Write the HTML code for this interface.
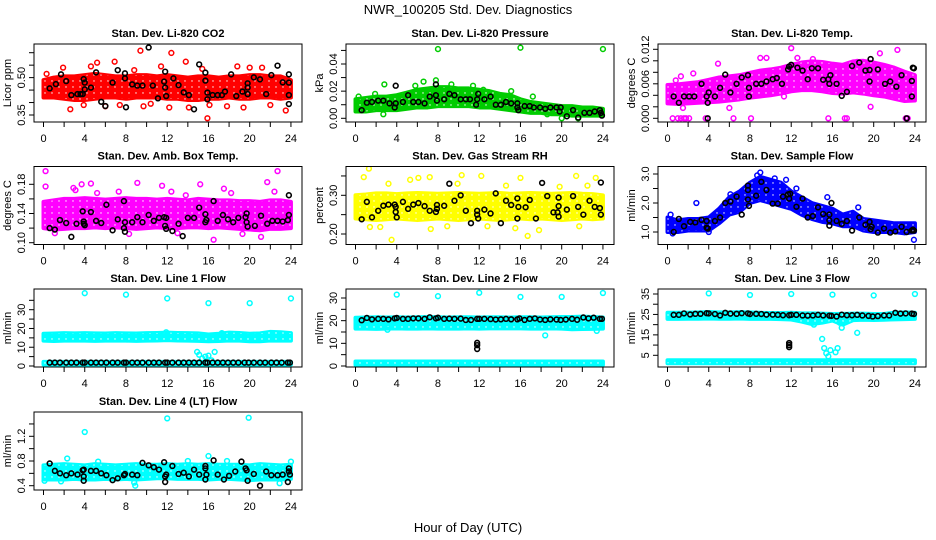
<!DOCTYPE html>
<html><head><meta charset="utf-8"><style>
html,body{margin:0;padding:0;background:#fff}
svg{display:block;font-family:"Liberation Sans",sans-serif}
</style></head><body>
<svg id="c" width="936" height="540" viewBox="0 0 936 540">
<defs>
<pattern id="dots" width="7" height="6" patternUnits="userSpaceOnUse"><circle cx="3" cy="3" r="0.7" fill="#fff"/></pattern>
</defs>
<text x="468" y="14" text-anchor="middle" font-size="13">NWR_100205  Std. Dev. Diagnostics</text>
<text x="468" y="532" text-anchor="middle" font-size="13">Hour of Day (UTC)</text>
</svg>
<script>
// ---------- DATA ----------
const hours = [0,1,2,3,4,5,6,7,8,9,10,11,12,13,14,15,16,17,18,19,20,21,22,23,24];
const xTicks = [0,2,4,6,8,10,12,14,16,18,20,22,24];
const xLabels = [0,4,8,12,16,20,24];

const co2Lo = [.42,.42,.415,.41,.41,.415,.42,.42,.415,.42,.42,.42,.415,.415,.41,.41,.415,.415,.42,.415,.415,.42,.42,.415,.42];
const co2Hi = [.49,.50,.505,.505,.51,.515,.51,.505,.505,.51,.51,.505,.51,.505,.50,.505,.505,.50,.505,.505,.51,.51,.505,.505,.49];
const co2Out = [[9.4,.608],[12.4,.599],[13.8,.564],[15.9,.337],[2.6,.373],[23.5,.368],[6.9,.564],[5.2,.56],[1.9,.54],[4.6,.545],[8.8,.53],[11.4,.545],[15.4,.535],[18.8,.545],[20,.54],[21.2,.54],[0.3,.515],[3.9,.39],[6,.385],[9.7,.385],[12.2,.38],[14.1,.38],[17.8,.385],[19.4,.38],[22,.39],[7.4,.39],[10.4,.395],[16.1,.39]];
const co2Blk = [[0.6,.457],[1.2,.474],[1.7,.513],[2.2,.486],[2.7,.43],[3.3,.434],[3.6,.434],[3.9,.494],[4.0,.48],[4.0,.453],[3.8,.434],[4.6,.46],[5.1,.521],[5.6,.403],[6.0,.386],[6.7,.48],[7.2,.53],[7.9,.517],[7.9,.497],[8.0,.381],[8.6,.473],[9.1,.468],[9.6,.468],[10.2,.621],[10.6,.468],[11.1,.417],[11.7,.484],[11.8,.524],[11.8,.46],[11.9,.426],[12.6,.497],[13.1,.47],[13.6,.441],[14.1,.43],[14.6,.373],[15.1,.553],[15.7,.52],[15.7,.488],[15.9,.44],[15.9,.413],[16.4,.43],[16.9,.43],[17.3,.43],[17.6,.444],[18.2,.513],[18.7,.426],[19.3,.444],[19.8,.477],[19.8,.46],[19.8,.434],[20.4,.501],[21.0,.493],[21.6,.434],[22.1,.51],[22.7,.548],[23.2,.481],[23.8,.513],[23.8,.48],[23.8,.43],[23.8,.394]];

const presLo = [.005,.005,.006,.006,.006,.007,.008,.008,.009,.009,.009,.009,.008,.008,.007,.006,.005,.004,.004,.003,.003,.002,.002,.002,.002];
const presHi = [.014,.015,.016,.016,.017,.019,.021,.022,.023,.023,.022,.022,.021,.020,.018,.017,.014,.012,.011,.010,.009,.009,.008,.008,.007];
const presOut = [[8,.051],[16,.052],[24,.051],[2.8,.025],[6.6,.027],[7.8,.028],[11.4,.024],[20,0],[21.6,0],[0.3,.016],[1.9,.018],[5.8,.024],[9.3,.025],[12.4,.021],[15.1,.02],[17.2,.016],[18.6,.003],[2.7,.003]];
const presBlk = [[0.6,.006],[1.1,.0115],[1.6,.012],[2.2,.013],[2.7,.013],[3.3,.011],[3.9,.024],[3.9,.011],[3.8,.008],[4.6,.012],[5.1,.017],[5.6,.012],[6.1,.012],[6.7,.011],[7.2,.016],[7.8,.025],[7.8,.017],[7.9,.013],[8.6,.014],[9.1,.018],[9.6,.017],[10.2,.014],[10.7,.014],[11.1,.014],[11.7,.010],[11.8,.014],[11.9,.018],[12.5,.014],[13.1,.016],[13.6,.010],[14.1,.010],[14.6,.012],[15.1,.011],[15.7,.011],[15.7,.008],[15.8,.006],[16.4,.009],[16.9,.009],[17.3,.008],[17.9,.008],[18.4,.007],[18.9,.008],[19.5,.008],[19.8,.005],[19.9,.008],[20.5,.0015],[21.1,.006],[21.6,.0005],[22.2,.004],[22.7,.004],[23.2,.005],[23.7,.006],[23.8,.004],[23.9,.002]];

const tempLo = [.0026,.0025,.0026,.0027,.0028,.0029,.0031,.0033,.0036,.0038,.0040,.0043,.0047,.0049,.0049,.0047,.0044,.0043,.0045,.0043,.0040,.0038,.0034,.0030,.0031];
const tempHi = [.0058,.0059,.0061,.0063,.0067,.0071,.0073,.0075,.0079,.0083,.0085,.0088,.0093,.0097,.0099,.0098,.0095,.0093,.0099,.0100,.0097,.0093,.0088,.0081,.0075];
const tempOut = [[0.5,0],[1.0,0],[1.3,0],[1.6,0],[1.8,0],[2.1,0],[3.7,0],[6.4,0],[8.1,0],[15.6,0],[17.2,0],[17.4,0],[23.1,0],[23.3,0],[12.0,.0122],[22.3,.0119],[9.0,.0105],[9.6,.0105],[19.7,.002],[4.9,.0095],[2.5,.0078],[1.3,.0073],[0.8,.0066],[6.0,.0018],[1.5,.0018],[11.3,.0038],[12.6,.0105],[14.1,.0103],[20.6,.0113],[18.4,.0098]];
const tempBlk = [[0.6,.0038],[1.1,.0027],[1.6,.0038],[2.1,.0038],[2.6,.0038],[3.3,.006],[3.8,.0038],[3.9,.0027],[4.0,.0045],[3.9,0],[4.6,.0038],[5.1,.0053],[5.6,.0076],[6.1,.0045],[6.7,.006],[7.2,.0071],[7.8,.0075],[7.9,.0053],[7.9,.0038],[8.6,.006],[9.1,.006],[9.6,.0064],[10.2,.0068],[10.6,.007],[11.1,.006],[11.7,.0085],[11.8,.009],[12.0,.0093],[12.6,.0088],[13.1,.0083],[13.6,.0068],[14.0,.0087],[14.6,.0087],[15.1,.0067],[15.6,.0068],[15.8,.0075],[15.7,.006],[16.4,.006],[16.9,.0039],[17.4,.0046],[17.9,.0091],[18.6,.0097],[19.2,.0083],[19.6,.0064],[19.7,.0103],[19.6,.0084],[20.4,.0085],[21.1,.006],[21.6,.0064],[22.2,.0055],[22.7,.0075],[23.2,0],[23.7,.0038],[23.7,.0065],[23.8,.0088],[23.9,.0087]];

const boxLo = [.120,.118,.119,.120,.120,.121,.120,.121,.120,.119,.120,.121,.120,.120,.121,.121,.120,.121,.120,.119,.118,.117,.119,.119,.120];
const boxHi = [.156,.158,.160,.160,.161,.160,.159,.160,.161,.160,.160,.159,.160,.159,.158,.160,.159,.158,.158,.157,.157,.156,.158,.158,.156];
const boxOut = [[0.2,.198],[0.2,.177],[22.7,.198],[21.7,.183],[9.1,.182],[15.2,.18],[4.6,.181],[3.7,.18],[16.5,.104],[21.1,.108],[13.0,.113],[2.9,.175],[3.1,.172],[11.5,.178],[17.5,.174],[7.3,.17],[12.4,.17],[18.2,.168],[22.4,.17],[1.1,.113],[8.3,.112],[19.3,.112],[5.2,.168],[13.8,.165]];
const boxBlk = [[0.6,.12],[1.1,.118],[1.6,.131],[2.2,.127],[2.7,.108],[3.2,.126],[3.8,.143],[3.9,.126],[3.9,.129],[4.0,.124],[4.6,.142],[5.1,.13],[5.6,.127],[6.1,.152],[6.7,.117],[7.2,.132],[7.8,.157],[7.8,.12],[7.9,.128],[7.9,.115],[8.6,.128],[9.1,.135],[9.6,.128],[10.2,.138],[10.7,.13],[11.2,.134],[11.7,.135],[11.8,.123],[11.9,.119],[11.9,.134],[12.5,.116],[13.1,.126],[13.5,.109],[14.0,.134],[14.6,.134],[15.1,.148],[15.7,.139],[15.7,.128],[15.8,.131],[16.5,.157],[16.9,.13],[17.4,.138],[17.9,.132],[18.4,.128],[18.9,.134],[19.6,.135],[19.7,.14],[19.7,.128],[19.8,.122],[20.5,.123],[21.1,.137],[21.7,.126],[22.2,.13],[22.7,.13],[23.2,.129],[23.7,.131],[23.8,.138],[23.8,.165]];

const rhLo = [.24,.238,.236,.238,.24,.238,.236,.238,.24,.238,.236,.238,.24,.238,.236,.238,.24,.238,.24,.238,.236,.238,.24,.238,.24];
const rhHi = [.30,.302,.305,.305,.303,.305,.306,.305,.304,.305,.306,.305,.304,.305,.306,.304,.305,.306,.305,.304,.305,.306,.304,.303,.30];
const rhOut = [[1.3,.369],[0.8,.347],[3.5,.185],[16.7,.195],[21.4,.35],[10.3,.352],[12.2,.35],[7.2,.347],[23.3,.345],[1.4,.218],[2.4,.218],[17.8,.21],[7.3,.213],[5.3,.34],[6.1,.345],[16,.345],[3.2,.33],[9.9,.33],[14.6,.325],[19.8,.322],[22.5,.325],[8.9,.22],[12.8,.22],[15.5,.215],[21.7,.22]];
const rhBlk = [[0.6,.238],[1.1,.283],[1.6,.243],[2.2,.26],[2.7,.273],[3.2,.276],[3.9,.27],[3.9,.257],[4.0,.243],[3.8,.276],[4.6,.283],[5.1,.265],[5.6,.276],[6.1,.28],[6.7,.272],[7.2,.26],[7.8,.257],[7.9,.275],[7.9,.265],[8.6,.273],[9.1,.33],[9.6,.286],[10.2,.3],[10.7,.26],[11.2,.228],[11.8,.26],[11.9,.24],[11.8,.25],[12.5,.263],[13.1,.253],[13.6,.305],[14.1,.228],[14.6,.286],[15.1,.275],[15.7,.292],[15.7,.24],[15.8,.27],[16.5,.269],[16.9,.288],[17.5,.24],[18.1,.332],[18.6,.298],[19.2,.256],[19.6,.256],[19.7,.294],[19.7,.272],[19.7,.245],[20.5,.263],[21.1,.298],[21.6,.27],[22.1,.25],[22.7,.286],[23.2,.27],[23.7,.267],[23.8,.333],[23.8,.25]];

const flowLo = [1.0,1.0,1.05,1.05,1.05,1.3,1.6,1.7,2.0,2.1,2.0,1.9,1.8,1.6,1.45,1.35,1.3,1.2,1.2,1.05,1.0,1.0,1.0,0.95,1.0];
const flowHi = [1.5,1.4,1.45,1.45,1.5,1.8,2.2,2.4,2.7,2.9,2.8,2.7,2.4,2.2,2.0,1.9,1.8,1.6,1.7,1.45,1.4,1.35,1.3,1.3,1.3];
const flowOut = [[2.8,2.0],[9.0,3.05],[23.9,0.73],[15.5,2.2],[7.5,2.3],[0.3,1.6],[8.7,2.95],[10.4,2.85],[11.5,2.8],[6.1,2.3],[12.5,2.5],[18.5,1.85],[0.5,0.95],[4.0,1.0]];
const flowBlk = [[0.6,1.0],[1.1,1.45],[1.6,1.2],[2.2,1.35],[2.7,1.33],[3.3,1.42],[3.8,1.38],[3.8,1.15],[3.9,1.12],[4.6,1.38],[5.1,1.5],[5.6,2.0],[6.1,2.05],[6.7,2.22],[7.2,1.6],[7.8,2.45],[7.8,2.6],[7.8,2.12],[7.9,1.9],[8.6,2.25],[9.1,2.73],[9.6,2.45],[10.2,1.98],[10.7,1.98],[11.2,2.22],[11.7,2.3],[11.8,2.15],[11.9,2.32],[12.5,1.87],[13.1,2.15],[13.6,1.5],[14.1,1.55],[14.6,1.85],[15.1,1.62],[15.7,1.6],[15.7,1.4],[15.7,1.22],[15.9,2.0],[16.4,1.38],[16.9,1.28],[17.4,1.38],[17.9,1.05],[18.6,1.5],[19.2,1.25],[19.6,1.35],[19.7,1.1],[19.8,1.18],[20.4,0.98],[21.0,1.12],[21.6,0.98],[22.1,1.02],[22.7,1.18],[23.2,1.0],[23.7,1.05],[23.8,1.08],[23.9,1.05]];

const lineBlkHours = [0.6,1.1,1.6,2.2,2.7,3.2,3.8,4.0,4.6,5.1,5.6,6.1,6.7,7.2,7.8,8.0,8.6,9.1,9.6,10.2,10.7,11.2,11.8,12.0,12.5,13.1,13.6,14.1,14.6,15.1,15.7,15.9,16.4,16.9,17.4,17.9,18.4,18.9,19.5,19.9,20.4,21.0,21.5,22.1,22.6,23.1,23.7,23.9];

const l1Lo = [13.5,13.3,13.5,13.6,13.5,13.4,13.5,13.6,13.5,13.4,13.5,13.6,13.8,13.6,13.5,13.4,13.2,13.3,13.6,13.5,13.2,13.2,13.6,13.5,13.5];
const l1Hi = [17.2,17.3,17.5,17.4,17.5,17.4,17.3,17.5,17.4,17.3,17.5,17.6,17.8,17.6,17.5,17.4,16.8,17.2,17.8,17.6,17.2,17.4,18.2,18,17.5];
const l1LowLo = [0.8,0.8,0.8,0.8,0.8,0.8,0.8,0.8,0.8,0.8,0.8,0.8,0.8,0.8,0.8,0.8,0.8,0.8,0.8,0.8,0.8,0.8,0.8,0.8,0.8];
const l1LowHi = [2.2,2.2,2.2,2.2,2.2,2.2,2.2,2.2,2.2,2.2,2.2,2.2,2.2,2.2,2.2,2.2,2.2,2.2,2.2,2.2,2.2,2.2,2.2,2.2,2.2];
const l1Out = [[4,38.8],[8,38],[12,36],[16,33.5],[20,33.5],[24,36],[14.9,7.5],[15.1,6],[15.4,4],[15.7,5],[16.0,5.5],[16.3,3],[16.6,7.5],[17.3,17.5],[11.9,18]];
const l1BlkV = [1.8,1.8,1.8,1.8,1.8,1.8,1.8,1.8,1.8,1.8,1.8,1.8,1.8,1.8,1.8,1.8,1.8,1.8,1.8,1.8,1.8,1.8,1.8,1.8,1.8,1.8,1.8,1.8,1.8,1.8,1.8,1.8,1.8,1.8,1.8,1.8,1.8,1.8,1.8,1.8,1.8,1.8,1.8,1.8,1.8,1.8,1.8,1.8];

const l2Lo = [16.5,16.5,16.4,16.5,16.6,16.5,16.5,16.6,16.5,16.5,16.5,16.6,16.5,16.6,16.6,16.6,16.6,16.5,16.5,16.6,16.5,16.2,16.3,16.4,16.5];
const l2Hi = [21.3,21.4,21.5,21.4,21.5,21.4,21.5,21.6,21.5,21.4,21.5,21.5,21.4,21.5,21.5,21.4,21.5,21.5,21.4,21.5,21.6,21.6,21.8,21.6,21.4];
const l2LowLo = [0.5,0.5,0.5,0.5,0.5,0.5,0.5,0.5,0.5,0.5,0.5,0.5,0.5,0.5,0.5,0.5,0.5,0.5,0.5,0.5,0.5,0.5,0.5,0.5,0.5];
const l2LowHi = [2.0,2.0,2.0,2.0,2.0,2.0,2.0,2.0,2.0,2.0,2.0,2.0,2.0,2.0,2.0,2.0,2.0,2.0,2.0,2.0,2.0,2.0,2.0,2.0,2.0];
const l2Out = [[4,31.5],[8,30.8],[12,32.3],[16,30.5],[20,30.5],[24,32.2],[18.4,13.5],[3.1,16],[23.4,15.5]];
const l2BlkV = [20.2,21.2,20.6,20.8,20.8,20.6,21.0,21.2,20.8,20.8,21.0,21.0,20.8,21.5,21.0,21.3,20.8,20.9,20.8,20.9,20.3,20.3,20.8,20.8,20.8,20.7,20.5,20.6,20.8,20.6,20.6,21.0,20.3,20.8,21.0,20.5,20.3,20.6,20.5,20.3,20.5,20.8,20.4,21.4,21.0,21.3,20.8,20.8];
const l2BlkOut = [[11.8,10.2],[11.8,9.2],[11.8,7.5]];

const l3Lo = [22.8,22.8,22.9,22.9,23.0,22.9,22.9,23.0,22.8,22.8,22.8,22.7,22.5,21.5,20.3,21.0,22.0,20.0,22.2,22.4,22.3,22.4,22.6,22.7,22.8];
const l3Hi = [25.8,25.8,25.9,26.0,26.2,26.0,26.0,26.1,26.0,25.8,25.7,25.7,25.8,25.5,25.5,25.4,25.2,25.3,25.4,25.4,25.2,25.2,25.9,26.0,25.8];
const l3LowLo = [1.1,1.1,1.1,1.1,1.1,1.1,1.1,1.1,1.1,1.1,1.1,1.1,1.1,1.1,1.1,1.1,1.1,1.1,1.1,1.1,1.1,1.1,1.1,1.1,1.1];
const l3LowHi = [2.6,2.6,2.6,2.6,2.6,2.6,2.6,2.6,2.6,2.6,2.6,2.6,2.6,2.6,2.6,2.6,2.6,2.6,2.6,2.6,2.6,2.6,2.6,2.6,2.6];
const l3Out = [[4,35.3],[8,34.5],[12,35],[16,34.7],[20,34.3],[24,35],[15,13],[15.2,8.5],[15.4,6],[15.6,4.5],[15.8,7.5],[16.3,6.5],[16.5,8.5],[16.9,18.5],[18.4,16],[14.2,20],[16.7,21]];
const l3BlkV = [24.8,24.8,25.5,25.0,25.3,25.3,25.6,25.5,25.2,24.5,25.8,25.4,25.3,25.6,25.5,25.2,25.3,25.2,24.9,24.9,24.8,24.6,24.6,24.8,24.8,24.5,24.4,24.5,24.8,24.5,24.4,24.3,24.0,24.9,24.6,24.6,24.8,24.5,24.3,24.0,24.2,24.5,24.5,25.8,25.4,25.5,25.4,25.2];
const l3BlkOut = [[11.8,11],[11.8,10],[11.8,9]];

const l4Lo = [.50,.50,.50,.51,.50,.50,.51,.50,.51,.50,.51,.52,.52,.51,.51,.51,.50,.51,.51,.50,.49,.50,.50,.50,.51];
const l4Hi = [.73,.74,.75,.74,.73,.75,.74,.73,.74,.75,.74,.74,.75,.74,.75,.74,.75,.74,.74,.74,.73,.75,.74,.73,.74];
const l4Out = [[4.0,1.27],[12.0,1.49],[19.9,1.5],[16.0,0.88],[8.9,0.4],[8.8,0.45],[2.3,0.84],[22.9,0.44],[1.7,0.47],[5.3,0.79],[14,0.8],[17.8,0.8],[0.1,0.48],[24,0.79]];
const l4Blk = [[0.6,.76],[1.1,.64],[1.6,.6],[2.2,.57],[2.7,.6],[3.3,.58],[3.9,.48],[3.9,.55],[3.8,.65],[3.9,.66],[4.6,.64],[5.1,.64],[5.6,.6],[6.1,.57],[6.7,.49],[7.2,.52],[7.8,.57],[7.9,.59],[8.6,.58],[9.1,.57],[9.6,.77],[10.2,.73],[10.7,.7],[11.2,.66],[11.7,.78],[11.8,.46],[11.8,.55],[11.9,.58],[12.5,.72],[13.1,.59],[13.6,.61],[14.1,.55],[14.6,.66],[15.1,.58],[15.7,.72],[15.7,.68],[15.7,.5],[15.8,.58],[16.5,.81],[16.9,.58],[17.5,.5],[18.0,.56],[18.6,.63],[19.2,.79],[19.6,.68],[19.7,.65],[19.8,.48],[20.4,.59],[21.0,.4],[21.6,.63],[22.1,.57],[22.7,.57],[23.2,.58],[23.7,.46],[23.8,.68],[23.8,.63],[23.9,.58]];

// ---------- PANELS (layout only) ----------
const NS = 'http://www.w3.org/2000/svg';
const svg = document.getElementById('c');
function zip(h, v){ return h.map((x,i)=>[x, v[i]]); }
const P = [
 {key:'co2',col:0,row:0,title:'Stan. Dev. Li-820 CO2',ylab:'Licor ppm',color:'#ff0000',ya:[0.35,115,0.60,52.7],ticks:[.35,.40,.45,.50,.55,.60],labels:['0.35','0.50'],labVals:[.35,.50],bands:[[co2Lo,co2Hi]],out:co2Out,blk:co2Blk},
 {key:'pressure',col:1,row:0,title:'Stan. Dev. Li-820 Pressure',ylab:'kPa',color:'#00cc00',ya:[0,118.3,0.04,64],ticks:[0,.01,.02,.03,.04,.05],labels:['0.00','0.02','0.04'],labVals:[0,.02,.04],bands:[[presLo,presHi]],out:presOut,blk:presBlk},
 {key:'temp',col:2,row:0,title:'Stan. Dev. Li-820 Temp.',ylab:'degrees C',color:'#ff00ff',ya:[0,118.3,0.012,49.3],ticks:[0,.002,.004,.006,.008,.010,.012],labels:['0.000','0.006','0.012'],labVals:[0,.006,.012],bands:[[tempLo,tempHi]],out:tempOut,blk:tempBlk},
 {key:'box-temp',col:0,row:1,title:'Stan. Dev. Amb. Box Temp.',ylab:'degrees C',color:'#ff00ff',ya:[0.10,242.7,0.18,184.3],ticks:[.10,.12,.14,.16,.18],labels:['0.10','0.14','0.18'],labVals:[.10,.14,.18],bands:[[boxLo,boxHi]],out:boxOut,blk:boxBlk},
 {key:'rh',col:1,row:1,title:'Stan. Dev. Gas Stream RH',ylab:'percent',color:'#ffff00',ya:[0.20,234,0.30,195.3],ticks:[.20,.25,.30,.35],labels:['0.20','0.30'],labVals:[.20,.30],bands:[[rhLo,rhHi]],out:rhOut,blk:rhBlk},
 {key:'sample-flow',col:2,row:1,title:'Stan. Dev. Sample Flow',ylab:'ml/min',color:'#0000ff',ya:[1.0,232,3.0,174],ticks:[1,1.5,2,2.5,3],labels:['1.0','2.0','3.0'],labVals:[1,2,3],bands:[[flowLo,flowHi]],out:flowOut,blk:flowBlk},
 {key:'line1',col:0,row:2,title:'Stan. Dev. Line 1 Flow',ylab:'ml/min',color:'#00ffff',ya:[0,366,30,309.7],ticks:[0,5,10,15,20,25,30,35],labels:['0','10','20','30'],labVals:[0,10,20,30],bands:[[l1Lo,l1Hi],[l1LowLo,l1LowHi]],out:l1Out,blk:zip(lineBlkHours,l1BlkV)},
 {key:'line2',col:1,row:2,title:'Stan. Dev. Line 2 Flow',ylab:'ml/min',color:'#00ffff',ya:[0,366,30,298],ticks:[0,5,10,15,20,25,30],labels:['0','10','20','30'],labVals:[0,10,20,30],bands:[[l2Lo,l2Hi],[l2LowLo,l2LowHi]],out:l2Out,blk:zip(lineBlkHours,l2BlkV).concat(l2BlkOut)},
 {key:'line3',col:2,row:2,title:'Stan. Dev. Line 3 Flow',ylab:'ml/min',color:'#00ffff',ya:[5,355.3,35,294],ticks:[5,10,15,20,25,30,35],labels:['5','15','25','35'],labVals:[5,15,25,35],bands:[[l3Lo,l3Hi],[l3LowLo,l3LowHi]],out:l3Out,blk:zip(lineBlkHours,l3BlkV).concat(l3BlkOut)},
 {key:'line4',col:0,row:3,title:'Stan. Dev. Line 4 (LT) Flow',ylab:'ml/min',color:'#00ffff',ya:[0.4,485.7,1.2,436.3],ticks:[.4,.6,.8,1.0,1.2,1.4],labels:['0.4','0.8','1.2'],labVals:[.4,.8,1.2],bands:[[l4Lo,l4Hi]],out:l4Out,blk:l4Blk}
];
const rowTop=[44,166.5,289,412], boxH=78;

function el(tag, attrs, parent){ const e=document.createElementNS(NS,tag); for(const k in attrs) e.setAttribute(k,attrs[k]); (parent||svg).appendChild(e); return e; }

P.forEach(p=>{
  const off=p.col*312, L=off+34, R=off+302, T=rowTop[p.row], B=T+boxH;
  const xs=h=>off+43.5+h*10.31;
  const ys=v=>p.ya[1]+(v-p.ya[0])*(p.ya[3]-p.ya[1])/(p.ya[2]-p.ya[0]);
  const g=el('g',{});
  
  
  const clipId='clip-'+p.key;
  const cp=el('clipPath',{id:clipId},g); el('rect',{x:L,y:T,width:R-L,height:B-T},cp);
  const plot=el('g',{'clip-path':'url(#'+clipId+')'},g);
  p.bands.forEach((b,bi)=>{
    const lo=b[0], hi=b[1];
    let pts=hours.map((h,i)=>xs(h)+','+ys(hi[i]));
    pts=pts.concat(hours.map((h,i)=>xs(h)+','+ys(lo[i])).reverse());
    const poly=el('polygon',{points:pts.join(' '),fill:p.color,stroke:p.color,'stroke-width':4,'stroke-linejoin':'round'},plot);
    
    
    el('polygon',{points:pts.join(' '),fill:'url(#dots)'},plot);
  });
  p.out.forEach(d=>{
    const c=el('circle',{cx:xs(d[0]),cy:ys(d[1]),r:2.4,fill:'none',stroke:p.color,'stroke-width':1.5},plot);
    
    
  });
  p.blk.forEach(d=>{
    const c=el('circle',{cx:xs(d[0]),cy:ys(d[1]),r:2.4,fill:'none',stroke:'#000','stroke-width':1.6},plot);
    
    
  });
  const bx=el('rect',{x:L,y:T,width:R-L,height:B-T,fill:'none',stroke:'#000','stroke-width':1},g);
  
  
  el('line',{x1:xs(0),y1:B,x2:xs(24),y2:B,stroke:'#000'},g);
  xTicks.forEach(t=>el('line',{x1:xs(t),y1:B,x2:xs(t),y2:B+5,stroke:'#000'},g));
  xLabels.forEach(t=>{ const tx=el('text',{x:xs(t),y:B+20,'text-anchor':'middle','font-size':11},g); tx.textContent=t;
    
     });
  const t0=p.ticks[0], t1=p.ticks[p.ticks.length-1];
  el('line',{x1:L,y1:ys(t0),x2:L,y2:ys(t1),stroke:'#000'},g);
  p.ticks.forEach(t=>el('line',{x1:L,y1:ys(t),x2:L-5,y2:ys(t),stroke:'#000'},g));
  p.labels.forEach((s,i)=>{ const y=ys(p.labVals[i]); const tx=el('text',{x:L-9,y:y,'text-anchor':'middle','font-size':11,transform:'rotate(-90 '+(L-9)+' '+y+')'},g); tx.textContent=s;
    
     });
  const ym=(T+B)/2;
  const yt=el('text',{x:off+11,y:ym,'text-anchor':'middle','font-size':11,transform:'rotate(-90 '+(off+11)+' '+ym+')'},g); yt.textContent=p.ylab;
  
  
  const tt=el('text',{x:(L+R)/2,y:T-7,'text-anchor':'middle','font-size':11,'font-weight':'bold'},g); tt.textContent=p.title;
  
  
});
</script>
</body></html>
